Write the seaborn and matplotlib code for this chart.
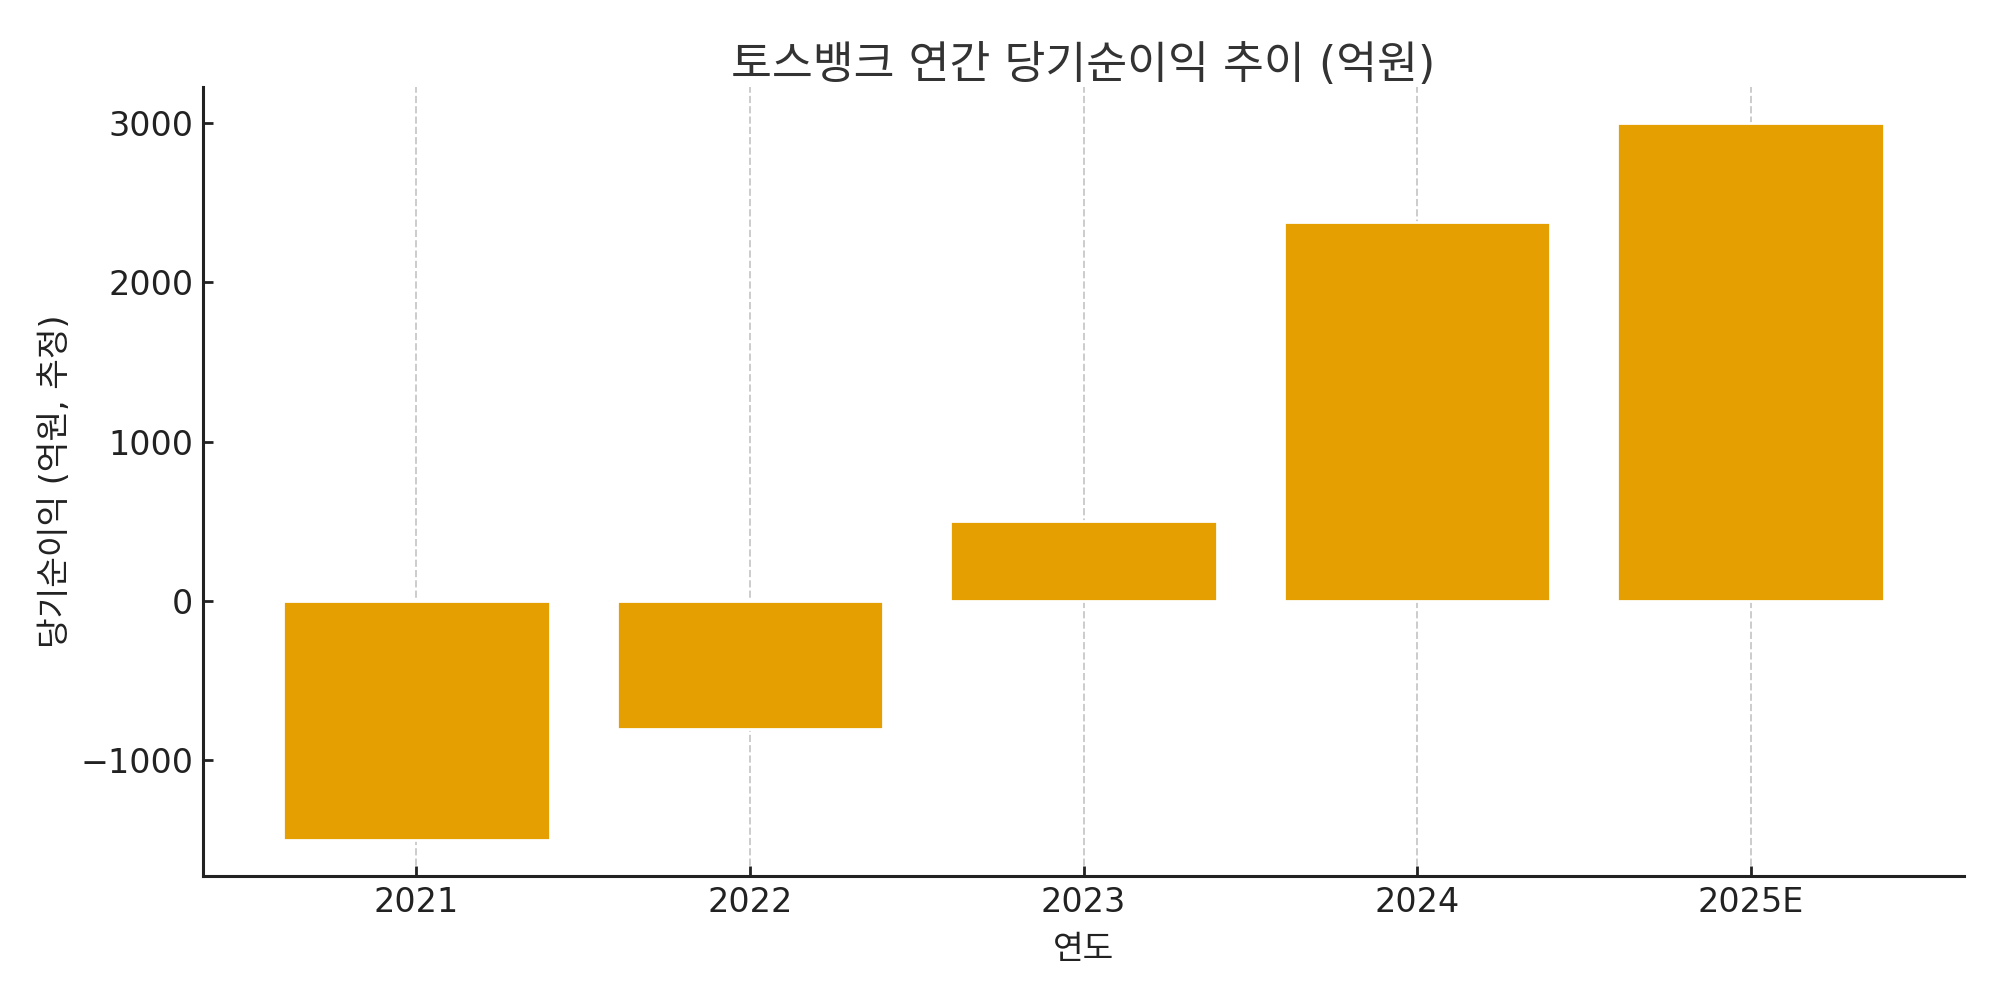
import pandas as pd
import matplotlib.pyplot as plt
import seaborn as sns

# data
years = ["2021", "2022", "2023", "2024", "2025E"]
net_income = [-1500, -800, 500, 2380, 3000]

title = "토스뱅크 연간 당기순이익 추이 (억원)"
x_label = "연도"
y_label = "당기순이익 (억원, 추정)"

df = pd.DataFrame({"year": years, "value": net_income})

sns.set_theme(style="ticks")
plt.rcParams['font.family'] = ['DejaVu Sans', 'Noto Sans CJK KR']
plt.rcParams['axes.unicode_minus'] = True

fig, ax = plt.subplots(figsize=(10, 5), dpi=200)
sns.barplot(data=df, x="year", y="value", color="#E69F00", saturation=1,
            width=0.8, ax=ax, zorder=2)

ax.set_xlim(-0.64, 4.64)
ax.grid(axis="x", linestyle="--", color="#cccccc", linewidth=0.7, zorder=0)
ax.set_axisbelow(True)
sns.despine(ax=ax)
for s in ["left", "bottom"]:
    ax.spines[s].set_color("#222222")
    ax.spines[s].set_linewidth(1.1)

ax.tick_params(axis="both", direction="in", labelsize=12, colors="#222222",
               length=3.5, width=1, pad=3.5)
ax.set_title(title, fontsize=16, color="#333333", pad=3)
ax.set_xlabel(x_label, fontsize=12, color="#222222", labelpad=5)
ax.set_ylabel(y_label, fontsize=12, color="#222222", labelpad=3)

fig.subplots_adjust(left=0.1015, right=0.982, top=0.913, bottom=0.124)
fig.savefig("out.png", dpi=200)
